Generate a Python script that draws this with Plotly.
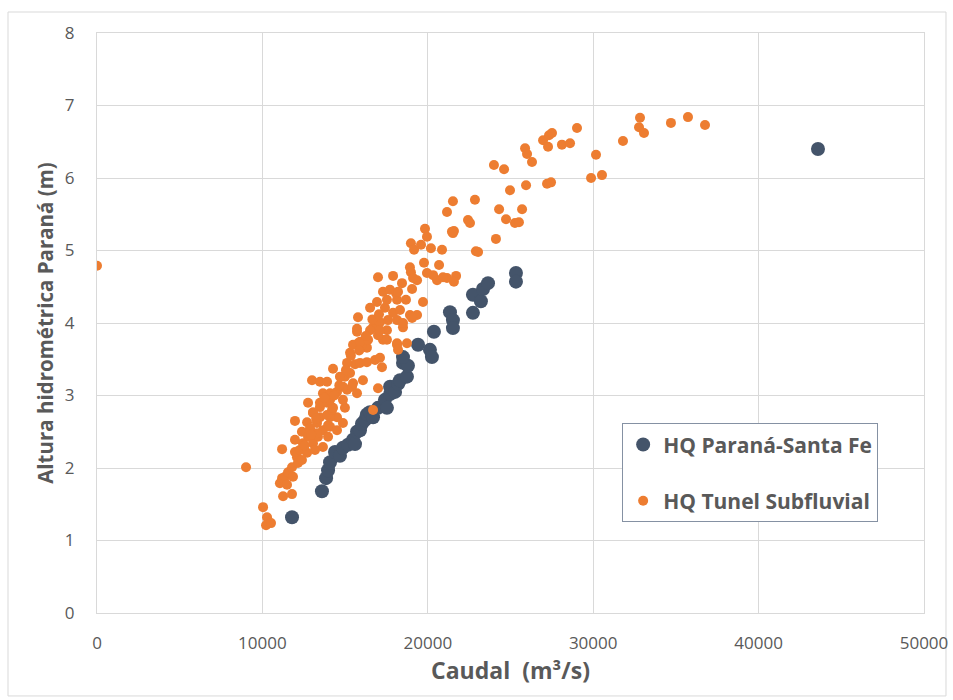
import plotly.graph_objects as go

# HQ Paraná-Santa Fe (caudal m3/s, altura m)
pst_q = [11790, 13600, 13850, 13970, 14090, 14390, 14690, 14870, 15180, 15480, 15600, 15720,
         15900, 16020, 16200, 16320, 16500, 16690, 16990, 17410, 17530, 17720, 17720, 18020,
         18200, 18320, 18740, 18500, 18800, 18500, 19410, 20130, 20250, 20370, 21340, 21520,
         21520, 22730, 22730, 23210, 23340, 23640, 25330, 25330, 43590]
pst_h = [1.32, 1.68, 1.86, 1.97, 2.08, 2.22, 2.17, 2.28, 2.32, 2.39, 2.33, 2.50,
         2.52, 2.61, 2.66, 2.74, 2.77, 2.70, 2.83, 2.94, 2.83, 3.02, 3.12, 3.05,
         3.16, 3.21, 3.26, 3.45, 3.41, 3.53, 3.70, 3.63, 3.53, 3.88, 4.15, 4.04,
         3.93, 4.39, 4.14, 4.30, 4.47, 4.55, 4.69, 4.57, 6.40]

# HQ Tunel Subfluvial
tun_q = [0, 9010, 10040, 10280, 10220, 10520, 11250, 11790, 11060, 11190, 11370, 11550,
         11490, 11790, 11850, 12090, 12150, 11970, 12270, 11190, 12450, 12390, 12700, 11970,
         12390, 12760, 13060, 13180, 12880, 13360, 13660, 13660, 13970, 14090, 14510, 13300,
         14870, 11970, 12700, 12880, 13300, 13970, 14510, 14090, 13480, 13910, 13060, 14210,
         14990, 13480, 14270, 12760, 13480, 13910, 13060, 14090, 14870, 16690, 13660, 14090,
         14510, 15120, 15720, 14870, 15420, 13000, 13480, 13910, 14990, 15480, 16080, 14690,
         16990, 14270, 15300, 15600, 15120, 15900, 16320, 16810, 17110, 17230, 15300, 16320,
         15780, 15480, 16020, 15720, 15720, 15900, 16390, 17290, 16990, 18140, 18740, 17530,
         18140, 18200, 16690, 17110, 17530, 18140, 18500, 16510, 17110, 17900, 17590, 18920,
         19350, 19050, 18500, 15780, 16510, 17410, 18320, 16930, 17530, 18140, 18680, 19710,
         17290, 17710, 18080, 19050, 18440, 16990, 17900, 19350, 20560, 21160, 21710, 21580,
         20320, 19950, 18920, 18980, 19770, 20680, 18980, 19170, 19590, 20190, 20860, 19830,
         19950, 21520, 22850, 21160, 22430, 22550, 21580, 21520, 22910, 23040, 24120, 24310,
         25700, 24730, 25270, 25510, 24970, 25940, 27210, 27450, 24000, 24610, 25880, 26000,
         26300, 26970, 27330, 27510, 27270, 28110, 28600, 29020, 30170, 29870, 30530, 31800,
         32830, 32770, 33070, 34700, 35730, 36760, 18200, 19110, 20920, 21460,
         12550, 12950, 13250, 13750, 14350, 14650, 15050, 15350, 15850, 16250, 16650, 17050]
tun_h = [4.79, 2.01, 1.46, 1.32, 1.21, 1.24, 1.61, 1.64, 1.79, 1.86, 1.88, 1.94,
         1.77, 2.01, 1.88, 2.15, 2.07, 2.22, 2.25, 2.26, 2.34, 2.11, 2.21, 2.39,
         2.50, 2.43, 2.34, 2.25, 2.52, 2.43, 2.29, 2.52, 2.43, 2.57, 2.52, 2.62,
         2.62, 2.65, 2.63, 2.55, 2.48, 2.59, 2.70, 2.70, 2.70, 2.73, 2.76, 2.80,
         2.83, 2.84, 2.83, 2.90, 2.90, 2.90, 2.77, 2.94, 2.94, 2.80, 3.03, 3.03,
         3.05, 3.08, 3.03, 3.12, 3.12, 3.21, 3.19, 3.19, 3.26, 3.17, 3.21, 3.26,
         3.10, 3.37, 3.31, 3.43, 3.45, 3.45, 3.46, 3.49, 3.52, 3.39, 3.59, 3.66,
         3.72, 3.70, 3.70, 3.88, 3.92, 3.74, 3.77, 3.77, 3.83, 3.72, 3.72, 3.77,
         3.70, 3.63, 3.94, 4.01, 3.90, 4.04, 3.94, 3.90, 3.90, 4.14, 4.04, 4.11,
         4.11, 4.07, 4.00, 4.08, 4.21, 4.21, 4.18, 4.29, 4.32, 4.32, 4.32, 4.29,
         4.43, 4.46, 4.41, 4.47, 4.55, 4.63, 4.65, 4.59, 4.59, 4.62, 4.65, 4.57,
         4.66, 4.69, 4.77, 4.70, 4.83, 4.80, 5.10, 5.01, 5.08, 5.03, 5.01, 5.30,
         5.19, 5.68, 5.70, 5.53, 5.42, 5.38, 5.27, 5.24, 4.99, 4.98, 5.16, 5.57,
         5.57, 5.43, 5.38, 5.39, 5.83, 5.90, 5.92, 5.94, 6.18, 6.12, 6.41, 6.33,
         6.22, 6.52, 6.59, 6.62, 6.43, 6.46, 6.48, 6.69, 6.32, 6.00, 6.04, 6.51,
         6.83, 6.70, 6.62, 6.76, 6.84, 6.73, 4.43, 4.62, 4.63, 5.26,
         2.31, 2.46, 2.68, 2.97, 3.00, 3.14, 3.35, 3.55, 3.62, 3.82, 4.05, 4.12]

x_ticks = [0, 10000, 20000, 30000, 40000, 50000]
y_ticks = [0, 1, 2, 3, 4, 5, 6, 7, 8]

FONT = "Open Sans, Liberation Sans, sans-serif"
GRAY = "#595959"

fig = go.Figure()
fig.add_trace(go.Scatter(x=pst_q, y=pst_h, mode="markers", name="HQ Paraná-Santa Fe",
                         legendgroup="a",
                         marker=dict(color="#44546a", size=14, line=dict(width=0))))
fig.add_trace(go.Scatter(x=tun_q, y=tun_h, mode="markers", name="HQ Tunel Subfluvial",
                         legendgroup="b",
                         marker=dict(color="#ed7d31", size=10, line=dict(width=0))))

fig.update_layout(
    width=953, height=700,
    margin=dict(l=97, r=29, t=33, b=87, autoexpand=False),
    paper_bgcolor="white", plot_bgcolor="white",
    font=dict(family=FONT, color=GRAY),
    showlegend=True,
    legend=dict(x=0.635, y=0.327, xanchor="left", yanchor="top",
                bgcolor="white", bordercolor="#8591a3", borderwidth=1,
                font=dict(family=FONT, size=21, color=GRAY, weight="bold"),
                itemsizing="trace", tracegroupgap=26),
    xaxis=dict(range=[0, 50000], tickvals=x_ticks, ticktext=[str(v) for v in x_ticks],
               showgrid=True, gridcolor="#d9d9d9", gridwidth=1, zeroline=False,
               showline=True, linecolor="#d9d9d9", mirror=True, automargin=False,
               ticks="", ticklabelstandoff=15,
               tickfont=dict(family=FONT, size=17, color=GRAY),
               title=dict(text="Caudal  (m³/s)", standoff=4,
                          font=dict(family=FONT, size=23, color=GRAY, weight="bold"))),
    yaxis=dict(range=[0, 8], tickvals=y_ticks,
               showgrid=True, gridcolor="#d9d9d9", gridwidth=1, zeroline=False,
               showline=True, linecolor="#d9d9d9", mirror=True, automargin=False,
               ticks="", ticklabelstandoff=18,
               tickfont=dict(family=FONT, size=17, color=GRAY),
               title=dict(text="Altura hidrométrica Paraná (m)", standoff=5,
                          font=dict(family=FONT, size=20.5, color=GRAY, weight="bold"))),
    shapes=[dict(type="rect", xref="paper", yref="paper",
                 x0=-0.1076, x1=1.0266, y0=-0.143, y1=1.0362,
                 line=dict(color="#d9d9d9", width=1), fillcolor="rgba(0,0,0,0)",
                 layer="below")],
)

fig.write_html("out.html")
